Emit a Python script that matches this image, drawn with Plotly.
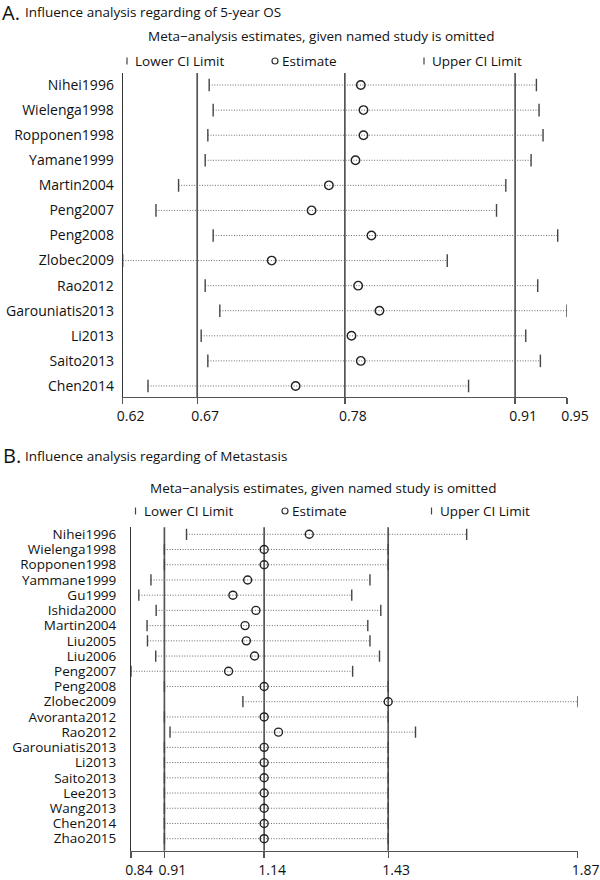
import plotly.graph_objects as go

# ---------------- Panel A data: 5-year OS ----------------
studies_A = ["Nihei1996", "Wielenga1998", "Ropponen1998", "Yamane1999", "Martin2004",
             "Peng2007", "Peng2008", "Zlobec2009", "Rao2012", "Garouniatis2013",
             "Li2013", "Saito2013", "Chen2014"]
lower_A = [0.681, 0.684, 0.680, 0.678, 0.658, 0.641, 0.684, 0.616, 0.678, 0.689, 0.675, 0.680, 0.635]
est_A   = [0.795, 0.797, 0.797, 0.791, 0.771, 0.758, 0.803, 0.728, 0.793, 0.809, 0.788, 0.795, 0.746]
upper_A = [0.927, 0.929, 0.932, 0.923, 0.904, 0.897, 0.943, 0.860, 0.928, 0.950, 0.919, 0.930, 0.876]
overall_A = [0.672, 0.783, 0.911]          # lower CI, estimate, upper CI
ticklabels_A = ["0.62", "0.67", "0.78", "0.91", "0.95"]

# ---------------- Panel B data: Metastasis ----------------
studies_B = ["Nihei1996", "Wielenga1998", "Ropponen1998", "Yammane1999", "Gu1999",
             "Ishida2000", "Martin2004", "Liu2005", "Liu2006", "Peng2007", "Peng2008",
             "Zlobec2009", "Avoranta2012", "Rao2012", "Garouniatis2013", "Li2013",
             "Saito2013", "Lee2013", "Wang2013", "Chen2014", "Zhao2015"]
lower_B = [0.963, 0.912, 0.912, 0.881, 0.853, 0.893, 0.872, 0.873, 0.892, 0.835, 0.912,
           1.093, 0.912, 0.925, 0.912, 0.912, 0.912, 0.912, 0.912, 0.912, 0.912]
est_B   = [1.246, 1.142, 1.142, 1.104, 1.070, 1.123, 1.098, 1.101, 1.120, 1.060, 1.142,
           1.428, 1.142, 1.175, 1.142, 1.142, 1.142, 1.142, 1.142, 1.142, 1.142]
upper_B = [1.609, 1.428, 1.428, 1.386, 1.344, 1.411, 1.381, 1.386, 1.408, 1.346, 1.428,
           1.865, 1.428, 1.491, 1.428, 1.428, 1.428, 1.428, 1.428, 1.428, 1.428]
overall_B = [0.912, 1.142, 1.428]
ticklabels_B = ["0.84", "0.91", "1.14", "1.43", "1.87"]

W, H = 600, 880
FONT = "Open Sans"
LINEC = "#555555"


def px(x):
    return x / W


def py(y):
    return 1 - y / H


fig = go.Figure()


def add_panel(names, lo, es, up, xa, ya, cap_size, circ_size):
    n = len(names)
    xs, ys = [], []
    for i in range(n):
        xs += [lo[i], up[i], None]
        ys += [i, i, None]
    fig.add_trace(go.Scatter(x=xs, y=ys, mode="lines", xaxis=xa, yaxis=ya,
                             line=dict(color="#6a6a6a", width=1, dash="1px,1.6px"),
                             hoverinfo="skip", showlegend=False))
    fig.add_trace(go.Scatter(x=lo + up, y=list(range(n)) * 2, mode="markers",
                             xaxis=xa, yaxis=ya, showlegend=False,
                             marker=dict(symbol="line-ns", size=cap_size,
                                         line=dict(color="#444444", width=1.4))))
    fig.add_trace(go.Scatter(x=es, y=list(range(n)), mode="markers",
                             xaxis=xa, yaxis=ya, showlegend=False,
                             marker=dict(symbol="circle-open", size=circ_size,
                                         color="#222222",
                                         line=dict(color="#222222", width=1.4))))


add_panel(studies_A, lower_A, est_A, upper_A, "x", "y", 9, 8.5)
add_panel(studies_B, lower_B, est_B, upper_B, "x2", "y2", 8, 8)

xmin_A, xmax_A = min(lower_A), max(upper_A)
xmin_B, xmax_B = min(lower_B), max(upper_B)
tv_A = [xmin_A] + overall_A + [xmax_A]
tv_B = [xmin_B] + overall_B + [xmax_B]

eps = 1e-6
xaxis_common = dict(showgrid=False, zeroline=False, showline=True, linecolor=LINEC,
                    linewidth=1.3, ticks="outside", ticklen=6, tickcolor=LINEC,
                    tickwidth=1.3, tickfont=dict(size=14, color="#111"),
                    ticklabelshift=8, automargin=False, fixedrange=True)
yaxis_common = dict(showgrid=False, zeroline=False, showline=True, linecolor="#333333",
                    linewidth=1, ticks="outside", tickcolor="rgba(0,0,0,0)",
                    automargin=False, fixedrange=True)

fig.update_layout(
    width=W, height=H, template="none",
    margin=dict(l=0, r=0, t=0, b=0),
    paper_bgcolor="white", plot_bgcolor="white",
    font=dict(family=FONT, color="#111"),
    showlegend=False,
    xaxis=dict(domain=[px(122.7), px(567)], range=[xmin_A - eps, xmax_A + eps],
               tickvals=tv_A, ticktext=ticklabels_A, anchor="y", **xaxis_common),
    yaxis=dict(domain=[py(397), py(73)], range=[len(studies_A) - 1 + 0.44, -0.48],
               tickvals=list(range(len(studies_A))), ticktext=studies_A,
               tickfont=dict(size=14, color="#111"),
               ticklen=5, anchor="x", **yaxis_common),
    xaxis2=dict(domain=[px(131), px(577.7)], range=[xmin_B - eps, xmax_B + eps],
                tickvals=tv_B, ticktext=ticklabels_B, anchor="y2", **xaxis_common),
    yaxis2=dict(domain=[py(850.7), py(527.3)], range=[len(studies_B) - 1 + 0.79, -0.46],
                tickvals=list(range(len(studies_B))), ticktext=studies_B,
                tickfont=dict(size=13.5, color="#111"),
                ticklen=11, anchor="x2", **yaxis_common),
)

shapes = []
for v in overall_A:
    shapes.append(dict(type="line", xref="x", yref="y domain", x0=v, x1=v, y0=0, y1=1,
                       line=dict(color=LINEC, width=1.7), layer="below"))
for v in overall_B:
    shapes.append(dict(type="line", xref="x2", yref="y2 domain", x0=v, x1=v, y0=0, y1=1,
                       line=dict(color=LINEC, width=1.7), layer="below"))

annotations = []


def text(x, y, s, size=13.5, anchor="left"):
    annotations.append(dict(x=px(x), y=py(y), xref="paper", yref="paper", text=s,
                            showarrow=False, xanchor=anchor, yanchor="middle",
                            font=dict(family=FONT, size=size, color="#111")))


def legend(y, bar1, lo_x, circ_x, est_x, bar2, up_x):
    for bx in (bar1, bar2):
        shapes.append(dict(type="line", xref="paper", yref="paper",
                           x0=px(bx), x1=px(bx), y0=py(y - 3.5), y1=py(y + 3.5),
                           line=dict(color="#444", width=1.2)))
    r = 3
    shapes.append(dict(type="circle", xref="paper", yref="paper",
                       x0=px(circ_x - r), x1=px(circ_x + r), y0=py(y + r), y1=py(y - r),
                       line=dict(color="#333", width=1.2)))
    text(lo_x, y, "Lower CI Limit")
    text(est_x, y, "Estimate")
    text(up_x, y, "Upper CI Limit")


# Panel A headers
text(0, 12, "A.", size=20)
text(23, 12, "Influence analysis regarding of 5-year OS", size=13.5)
text(321, 36, "Meta\u2212analysis estimates, given named study is omitted", size=13.5, anchor="center")
legend(61, 127, 133, 275, 280, 424, 430)

# Panel B headers
text(1, 455, "B.", size=20)
text(23, 456, "Influence analysis regarding of Metastasis", size=13.5)
text(323, 488, "Meta\u2212analysis estimates, given named study is omitted", size=13.5, anchor="center")
legend(511, 135.5, 142, 285, 290, 431.5, 438)

fig.update_layout(shapes=shapes, annotations=annotations)

fig.write_html(
    "out.html",
    config={"displayModeBar": False, "staticPlot": True},
    post_script="document.body.style.margin='0';document.body.style.overflow='hidden';",
)
